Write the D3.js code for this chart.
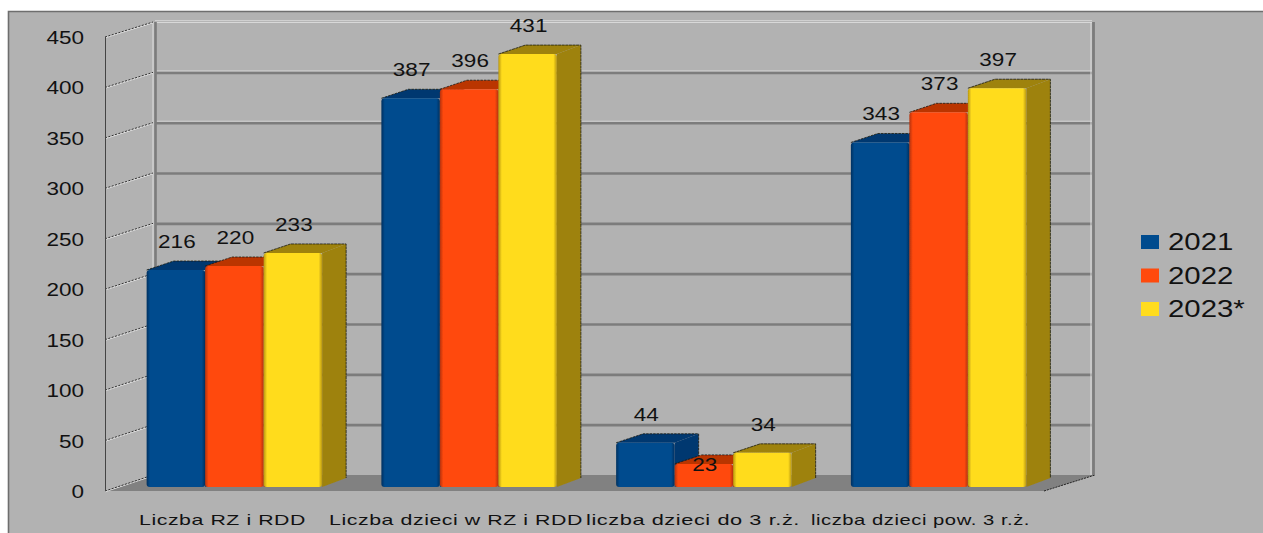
<!DOCTYPE html>
<html>
<head>
<meta charset="utf-8">
<script src="https://cdn.jsdelivr.net/npm/d3@7"></script>
<style>
  html, body { margin: 0; padding: 0; background: #fff; overflow: hidden; }
  svg { display: block; }
  text { font-family: "Liberation Sans", Arial, sans-serif; fill: #111; }
</style>
</head>
<body>
<svg id="chart" width="1263" height="533"></svg>
<script>
const categories = ['Liczba RZ i RDD', 'Liczba dzieci w RZ i RDD', 'liczba dzieci do 3 r.ż.', 'liczba dzieci pow. 3 r.ż.'];
const seriesNames = ['2021', '2022', '2023*'];
const values2021 = [216, 387, 44, 343];
const values2022 = [220, 396, 23, 373];
const values2023 = [233, 431, 34, 397];
const yTicks = [0, 50, 100, 150, 200, 250, 300, 350, 400, 450];

const seriesValues = [values2021, values2022, values2023];
const frontColors = ['#004b8e', '#ff4a0d', '#ffdc1e'];
const edgeColors = ['#00305f', '#b5320a', '#b8960f'];
const sideColors = ['#02376f', '#ba3506', '#9e8210'];

const width = 1263;
const height = 533;
const svg = d3.select('#chart');

// the source picture is stretched sideways, so the digits get widened too
const stretch = 1.25;

const yFront = d3.scaleLinear().domain([0, 450]).range([491, 37]);
const yBack = d3.scaleLinear().domain([0, 450]).range([475, 22]);
const yBar = d3.scaleLinear().domain([0, 450]).range([487, 35]);

const wallLeft = 153;
const wallRight = 1092;
const axisX = 105;
const floorRight = 1044;

const xGroup = d3.scaleBand().domain(d3.range(categories.length)).range([120, 1059]).paddingInner(0).align(0.5);
const barWidth = 58.5;
const depthX = 24;
const depthY = 9;
const groupStart = (i) => xGroup(i) + (xGroup.bandwidth() - barWidth * 3) / 2 - 3;

// background
svg.append('rect').attr('width', width).attr('height', height).attr('fill', '#fff');
svg.append('rect').attr('x', 8).attr('y', 11).attr('width', width - 8).attr('height', height - 11).attr('fill', '#b2b2b2');
svg.append('path').attr('d', `M8.5,${height} V11.5 H${width}`).attr('fill', 'none').attr('stroke', '#6e6e6e').attr('stroke-width', 1.6);

const defs = svg.append('defs');
frontColors.forEach((c, i) => {
  const g = defs.append('linearGradient').attr('id', `front-${i}`);
  g.append('stop').attr('offset', '0%').attr('stop-color', edgeColors[i]);
  g.append('stop').attr('offset', '6%').attr('stop-color', c);
  g.append('stop').attr('offset', '94%').attr('stop-color', c);
  g.append('stop').attr('offset', '100%').attr('stop-color', edgeColors[i]);
});
defs.append('filter').attr('id', 'soft').append('feGaussianBlur').attr('stdDeviation', 0.7);

// floor
svg.append('path')
  .attr('d', `M${axisX},${yFront(0)} L${wallLeft},${yBack(0)} H${wallRight + 3} L${floorRight},${yFront(0)} Z`)
  .attr('fill', '#818181');
svg.append('line')
  .attr('x1', floorRight).attr('y1', yFront(0)).attr('x2', wallRight + 3).attr('y2', yBack(0))
  .attr('stroke', '#222').attr('stroke-width', 1).attr('stroke-dasharray', '2 1');

// back wall grid
const wall = svg.append('g');
wall.selectAll('line.grid').data(yTicks.filter((d) => d > 0)).join('line')
  .attr('class', 'grid')
  .attr('x1', wallLeft + 2).attr('x2', wallRight)
  .attr('y1', (d) => yBack(d) + 0.5).attr('y2', (d) => yBack(d) + 0.5)
  .attr('stroke', (d) => (d === 450 ? '#d8d8d8' : '#7c7c7c'))
  .attr('stroke-width', (d) => (d === 450 ? 1 : 2.6));
wall.selectAll('line.glow').data(yTicks.filter((d) => d > 300)).join('line')
  .attr('class', 'glow')
  .attr('x1', wallLeft + 2).attr('x2', wallRight)
  .attr('y1', (d) => yBack(d) - 1.4).attr('y2', (d) => yBack(d) - 1.4)
  .attr('stroke', '#dcdcdc').attr('stroke-width', 0.8);
wall.append('line').attr('x1', wallLeft).attr('x2', wallLeft).attr('y1', yBack(450)).attr('y2', yBack(0))
  .attr('stroke', '#dedede').attr('stroke-width', 1);
wall.append('line').attr('x1', wallLeft + 2.5).attr('x2', wallLeft + 2.5).attr('y1', yBack(450)).attr('y2', yBack(0))
  .attr('stroke', '#7c7c7c').attr('stroke-width', 2.6);
wall.append('line').attr('x1', wallRight - 1).attr('x2', wallRight - 1).attr('y1', yBack(450)).attr('y2', yBack(0))
  .attr('stroke', '#dedede').attr('stroke-width', 1);
wall.append('line').attr('x1', wallRight + 1.5).attr('x2', wallRight + 1.5).attr('y1', yBack(450)).attr('y2', yBack(0))
  .attr('stroke', '#7c7c7c').attr('stroke-width', 2.8);

// left side wall
svg.selectAll('line.sideLight').data(yTicks).join('line')
  .attr('class', 'sideLight')
  .attr('x1', axisX).attr('x2', wallLeft)
  .attr('y1', (d) => yFront(d) + 0.8).attr('y2', (d) => yBack(d) + 0.8)
  .attr('stroke', '#e2e2e2').attr('stroke-width', 1);
svg.selectAll('line.sideDark').data(yTicks).join('line')
  .attr('class', 'sideDark')
  .attr('x1', axisX).attr('x2', wallLeft)
  .attr('y1', (d) => yFront(d)).attr('y2', (d) => yBack(d))
  .attr('stroke', '#333').attr('stroke-width', 1).attr('stroke-dasharray', '2 1.5');
svg.append('line').attr('x1', axisX + 0.5).attr('x2', axisX + 0.5).attr('y1', yFront(450)).attr('y2', yFront(0))
  .attr('stroke', '#444').attr('stroke-width', 1);

// bars
const bars = svg.append('g').attr('filter', 'url(#soft)');
categories.forEach((cat, i) => {
  seriesValues.forEach((vals, s) => {
    const x0 = groupStart(i) + s * barWidth;
    const x1 = x0 + barWidth;
    const top = yBar(vals[i]);
    const base = yBar(0);
    const g = bars.append('g');
    // side
    g.append('path')
      .attr('d', `M${x1},${top} L${x1 + depthX},${top - depthY} V${base - depthY} L${x1},${base} Z`)
      .attr('fill', sideColors[s]);
    // top
    g.append('path')
      .attr('d', `M${x0},${top} L${x0 + depthX + 3},${top - depthY} H${x1 + depthX} L${x1},${top} Z`)
      .attr('fill', sideColors[s]);
    g.append('path')
      .attr('d', `M${x0},${top} L${x0 + depthX + 3},${top - depthY} H${x1 + depthX} V${base - depthY}`)
      .attr('fill', 'none').attr('stroke', '#1c1c10').attr('stroke-width', 0.8).attr('stroke-dasharray', s === 2 ? '3 0.6' : '2.5 1');
    // front
    g.append('rect')
      .attr('x', x0).attr('y', top).attr('width', barWidth).attr('height', base - top)
      .attr('rx', 3).attr('ry', 3)
      .attr('fill', `url(#front-${s})`);
  });
});

function stretchedText(parent, x, y, str, size, anchor) {
  return parent.append('text')
    .attr('transform', `translate(${x},${y}) scale(${stretch},1)`)
    .attr('text-anchor', anchor)
    .attr('font-size', size)
    .text(str);
}

// value labels
categories.forEach((cat, i) => {
  seriesValues.forEach((vals, s) => {
    const cx = groupStart(i) + (s + 0.5) * barWidth + 1;
    // the "23" label sits down on its bar in the source
    const shift = vals[i] === 23 ? 29 : 0;
    stretchedText(svg, cx, yBar(vals[i]) - 22 + shift, vals[i], 18, 'middle');
  });
});

// y axis labels
yTicks.forEach((t) => {
  stretchedText(svg, 84, yFront(t) + 7, t, 18, 'end');
});

// category labels
const catStart = [139, 329, 586, 811];
const catLength = [167, 254, 214, 219];
categories.forEach((cat, i) => {
  svg.append('text')
    .attr('x', catStart[i]).attr('y', 525)
    .attr('font-size', 15)
    .attr('letter-spacing', 0.4)
    .attr('textLength', catLength[i])
    .attr('lengthAdjust', 'spacingAndGlyphs')
    .text(cat);
});

// legend
const legendY = d3.scalePoint().domain(seriesNames).range([242, 309]);
seriesNames.forEach((name, s) => {
  svg.append('rect')
    .attr('x', 1141).attr('y', legendY(name) - 7).attr('width', 18).attr('height', 14)
    .attr('fill', frontColors[s]);
  stretchedText(svg, 1168, legendY(name) + 8, name, 23.5, 'start');
});
</script>
</body>
</html>
